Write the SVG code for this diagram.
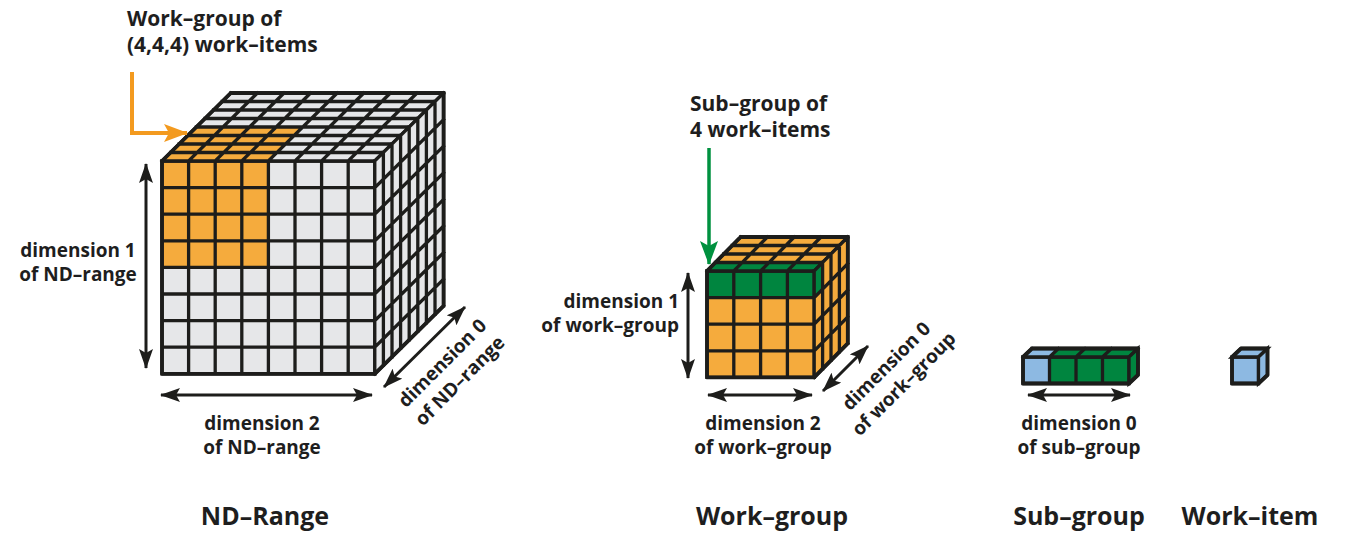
<svg xmlns="http://www.w3.org/2000/svg" xmlns:xlink="http://www.w3.org/1999/xlink" width="1347" height="533" viewBox="0 0 1347 533">
<style>
.g{fill:#e6e7e9}.o{fill:#f5ab3d}.gr{fill:#00853f}.b{fill:#8db9e2}
.grid{fill:none;stroke:#1d1d1b;stroke-width:3.3;vector-effect:non-scaling-stroke;stroke-linecap:square}
.edge{fill:none;stroke:#1d1d1b;stroke-width:3.8;stroke-linejoin:round}
.t{font-family:"Open Sans","Noto Sans",sans-serif;font-weight:700;fill:#1e1e1e}
.lbl{font-size:19px}
.hd{font-size:21px}
.ttl{font-size:25px}
.dim{fill:none;stroke:#1d1d1b;stroke-width:3;marker-start:url(#ah);marker-end:url(#ah)}
</style>
<defs>
<marker id="ah" viewBox="0 0 20 14" markerWidth="20" markerHeight="14" refX="19" refY="7" orient="auto-start-reverse" markerUnits="userSpaceOnUse">
<path d="M0 0L20 7L0 14L4 7z" fill="#1d1d1b"/>
</marker>
<marker id="ao" viewBox="0 0 24 18" markerWidth="24" markerHeight="18" refX="23" refY="9" orient="auto" markerUnits="userSpaceOnUse">
<path d="M0 0L24 9L0 18L5 9z" fill="#f39a1f"/>
</marker>
<marker id="ag" viewBox="0 0 24 18" markerWidth="24" markerHeight="18" refX="23" refY="9" orient="auto" markerUnits="userSpaceOnUse">
<path d="M0 0L24 9L0 18L5 9z" fill="#00913f"/>
</marker>
</defs>

<g id="nd-range">
<g transform="matrix(26.6 0 0 26.6 162 161)">
<rect class="g" width="8" height="8"/><rect class="o" width="4" height="4"/>
<path class="grid" d="M0 0H8M0 1H8M0 2H8M0 3H8M0 4H8M0 5H8M0 6H8M0 7H8M0 8H8M0 0V8M1 0V8M2 0V8M3 0V8M4 0V8M5 0V8M6 0V8M7 0V8M8 0V8"/>
</g>
<g transform="matrix(26.6 0 8.6 -8.5 162 161)">
<rect class="g" width="8" height="8"/><rect class="o" width="4" height="4"/>
<path class="grid" d="M0 0H8M0 1H8M0 2H8M0 3H8M0 4H8M0 5H8M0 6H8M0 7H8M0 8H8M0 0V8M1 0V8M2 0V8M3 0V8M4 0V8M5 0V8M6 0V8M7 0V8M8 0V8"/>
</g>
<g transform="matrix(8.6 -8.5 0 26.6 374.8 161)">
<rect class="g" width="8" height="8"/>
<path class="grid" d="M0 0H8M0 1H8M0 2H8M0 3H8M0 4H8M0 5H8M0 6H8M0 7H8M0 8H8M0 0V8M1 0V8M2 0V8M3 0V8M4 0V8M5 0V8M6 0V8M7 0V8M8 0V8"/>
</g>
<path class="edge" d="M162 161L230.8 93H443.6V305.8L374.8 373.8H162z"/>
</g>

<g id="work-group">
<g transform="matrix(26.8 0 0 26.6 707 271)">
<rect class="o" width="4" height="4"/><rect class="gr" width="4" height="1"/>
<path class="grid" d="M0 0H4M0 1H4M0 2H4M0 3H4M0 4H4M0 0V4M1 0V4M2 0V4M3 0V4M4 0V4"/>
</g>
<g transform="matrix(26.8 0 8.4 -8.5 707 271)">
<rect class="o" width="4" height="4"/><rect class="gr" width="4" height="1"/>
<path class="grid" d="M0 0H4M0 1H4M0 2H4M0 3H4M0 4H4M0 0V4M1 0V4M2 0V4M3 0V4M4 0V4"/>
</g>
<g transform="matrix(8.4 -8.5 0 26.6 814.2 271)">
<rect class="o" width="4" height="4"/><rect class="gr" width="1" height="1"/>
<path class="grid" d="M0 0H4M0 1H4M0 2H4M0 3H4M0 4H4M0 0V4M1 0V4M2 0V4M3 0V4M4 0V4"/>
</g>
<path class="edge" d="M707 271L740.6 237H847.8V343.4L814.2 377.4H707z"/>
</g>

<g id="sub-group">
<g transform="matrix(26.5 0 0 26.5 1023 357)">
<rect class="gr" width="4" height="1"/><rect class="b" width="1" height="1"/>
<path class="grid" d="M0 0H4M0 1H4M0 0V1M1 0V1M2 0V1M3 0V1M4 0V1"/>
</g>
<g transform="matrix(26.5 0 9 -8.5 1023 357)">
<rect class="gr" width="4" height="1"/><rect class="b" width="1" height="1"/>
<path class="grid" d="M0 0H4M0 1H4M0 0V1M1 0V1M2 0V1M3 0V1M4 0V1"/>
</g>
<g transform="matrix(9 -8.5 0 26.5 1129 357)">
<rect class="gr" width="1" height="1"/>
<path class="grid" d="M0 0H1V1H0z"/>
</g>
<path class="edge" d="M1023 357L1032 348.5H1138V375L1129 383.5H1023z"/>
</g>

<g id="work-item">
<g transform="matrix(26.5 0 0 26.5 1232 357)">
<rect class="b" width="1" height="1"/>
<path class="grid" d="M0 0H1V1H0z"/>
</g>
<g transform="matrix(26.5 0 9 -8.5 1232 357)">
<rect class="b" width="1" height="1"/>
<path class="grid" d="M0 0H1V1H0z"/>
</g>
<g transform="matrix(9 -8.5 0 26.5 1258.5 357)">
<rect class="b" width="1" height="1"/>
<path class="grid" d="M0 0H1V1H0z"/>
</g>
<path class="edge" d="M1232 357L1241 348.5H1267.5V375L1258.5 383.5H1232z"/>
</g>

<g id="connectors">
<path d="M132 72V133H187" fill="none" stroke="#f39a1f" stroke-width="4" marker-end="url(#ao)"/>
<path d="M709 148V264" fill="none" stroke="#00913f" stroke-width="3.5" marker-end="url(#ag)"/>
<path class="dim" d="M146 164V368"/>
<path class="dim" d="M161 395H372"/>
<path class="dim" d="M384 387L465 307"/>
<path class="dim" d="M688 273V378"/>
<path class="dim" d="M708 395H812"/>
<path class="dim" d="M823 391L868 346"/>
<path class="dim" d="M1028 395H1130"/>
</g>

<g id="labels">
<text class="t hd" x="127" y="26">Work–group of</text>
<text class="t hd" x="127" y="52">(4,4,4) work–items</text>
<text class="t hd" x="690" y="111">Sub–group of</text>
<text class="t hd" x="690" y="137">4 work–items</text>
<text class="t lbl" x="78" y="257" text-anchor="middle">dimension 1</text>
<text class="t lbl" x="78" y="281" text-anchor="middle">of ND–range</text>
<text class="t lbl" x="262" y="430" text-anchor="middle">dimension 2</text>
<text class="t lbl" x="262" y="454" text-anchor="middle">of ND–range</text>
<text class="t lbl" transform="translate(451 372) rotate(-45)" text-anchor="middle"><tspan x="0" y="-6">dimension 0</tspan><tspan x="0" y="19">of ND–range</tspan></text>
<text class="t lbl" x="679" y="308" text-anchor="end">dimension 1</text>
<text class="t lbl" x="679" y="332" text-anchor="end">of work–group</text>
<text class="t lbl" x="763" y="430" text-anchor="middle">dimension 2</text>
<text class="t lbl" x="763" y="454" text-anchor="middle">of work–group</text>
<text class="t lbl" transform="translate(895 375) rotate(-45)" text-anchor="middle"><tspan x="0" y="-6">dimension 0</tspan><tspan x="0" y="19">of work–group</tspan></text>
<text class="t lbl" x="1079" y="430" text-anchor="middle">dimension 0</text>
<text class="t lbl" x="1079" y="454" text-anchor="middle">of sub–group</text>
<text class="t ttl" x="265" y="525" text-anchor="middle">ND–Range</text>
<text class="t ttl" x="772" y="525" text-anchor="middle">Work–group</text>
<text class="t ttl" x="1079" y="525" text-anchor="middle">Sub–group</text>
<text class="t ttl" x="1250" y="525" text-anchor="middle">Work–item</text>
</g>
</svg>
